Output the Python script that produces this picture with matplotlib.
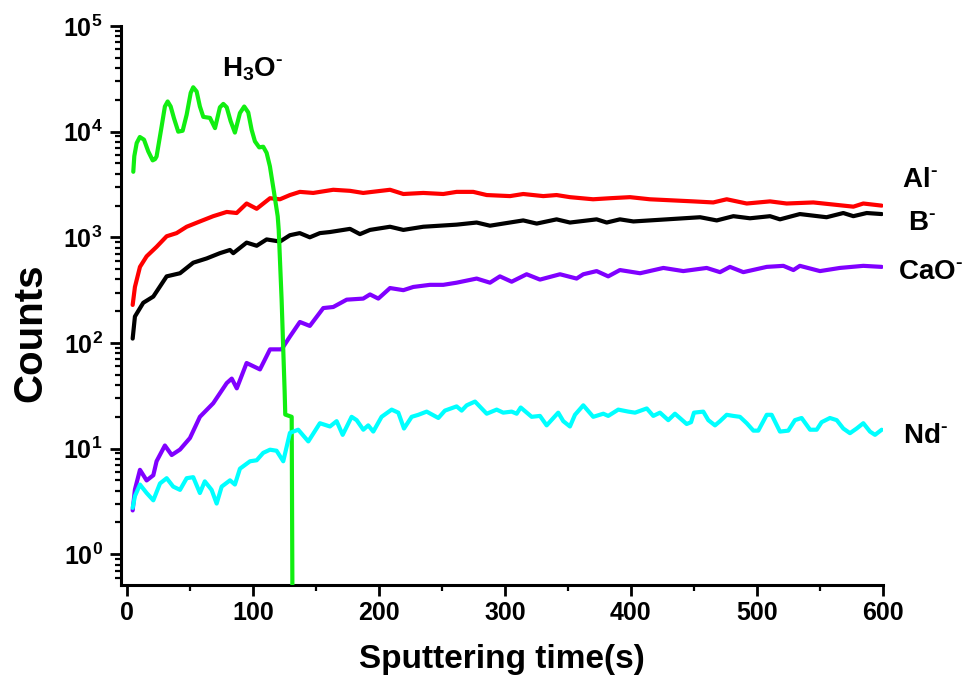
import matplotlib
matplotlib.use("Agg")
import matplotlib.pyplot as plt
from matplotlib.ticker import MultipleLocator, LogLocator, LogFormatterSciNotation, NullFormatter

plt.rcParams['font.family'] = ['Liberation Sans', 'DejaVu Sans']
plt.rcParams['font.weight'] = 'bold'
plt.rcParams['mathtext.fontset'] = 'custom'
plt.rcParams['mathtext.rm'] = 'Liberation Sans:bold'
plt.rcParams['mathtext.bf'] = 'Liberation Sans:bold'
plt.rcParams['mathtext.it'] = 'Liberation Sans:bold'
plt.rcParams['mathtext.sf'] = 'Liberation Sans:bold'
plt.rcParams['mathtext.default'] = 'rm'

# ---------------- data ----------------
h3o_t = [4.8, 5.6, 7.5, 10, 13.3, 16.7, 20.2, 22.1, 23.3, 27.3, 29.9, 32.1, 34.5, 37.1, 40.5,
         44, 47.2, 50.4, 52.4, 55.1, 57.7, 60.4, 65.7, 69.7, 73.6, 76.3, 79, 82.1, 85.5,
         89.5, 92.9, 96.1, 98.8, 101.4, 104.8, 108, 110.7, 113.3, 116.5, 119.5, 120.3,
         122.6, 123.9, 125.0, 125.5, 130.6, 131.4]
h3o_c = [4170, 5860, 7800, 8900, 8400, 6500, 5350, 5500, 5830, 11200, 17300, 19300, 17300, 13400, 10000,
         10200, 14500, 23300, 26300, 24000, 17300, 13800, 13500, 10800, 17000, 18300, 17000, 12600, 9800,
         15000, 17300, 15200, 10400, 8100, 7100, 7200, 6300, 4700, 2700, 1580, 1175,
         257, 87, 35, 21, 20, 0.1]

al_t = [4.3, 6.1, 10.1, 15.4, 23.3, 31.3, 39.2, 47.2, 57.7, 68.3, 79, 86.9, 94.8, 102.8, 113.4,
        121.3, 129.2, 137.1, 147.7, 163.6, 176.9, 187.4, 208.7, 219.3, 235.1, 251, 261.6, 274.8,
        285.5, 304, 314.5, 330.4, 341, 351.6, 370, 383.4, 399.3, 415, 449.6, 465.4, 476.1, 492,
        510.5, 523.7, 544.9, 560.8, 576.7, 584.6, 599.2]
al_c = [229, 339, 525, 661, 813, 1023, 1096, 1259, 1413, 1585, 1738, 1698, 2089, 1862, 2344,
        2291, 2512, 2692, 2630, 2818, 2754, 2630, 2818, 2570, 2630, 2570, 2692, 2692,
        2512, 2455, 2570, 2455, 2512, 2399, 2291, 2344, 2399, 2291, 2188, 2138, 2291, 2089,
        2188, 2089, 2138, 2042, 1950, 2089, 1995]

b_t = [4.3, 6.1, 12.7, 20.7, 31.3, 41.9, 52.4, 63.1, 73.6, 81.6, 84.2, 94.8, 102.8, 110.7, 121.3,
       129.2, 137, 145, 153, 161, 176.9, 184.8, 192.8, 208.7, 219.3, 235.1, 261.6, 277.5, 288.1,
       298.6, 314.5, 325.2, 341, 351.6, 372.8, 380.8, 391.3, 402, 428.4, 455, 468.2, 481.4,
       494.6, 510.5, 518.4, 534.2, 555.4, 568.7, 576.7, 587.3, 599.2]
b_c = [110, 178, 240, 275, 427, 457, 575, 631, 708, 759, 708, 891, 832, 955, 912,
       1047, 1096, 1000, 1096, 1122, 1202, 1072, 1175, 1259, 1175, 1259, 1318, 1380, 1288,
       1349, 1445, 1349, 1479, 1380, 1479, 1380, 1479, 1413, 1479, 1549, 1445, 1585,
       1514, 1585, 1479, 1660, 1549, 1698, 1585, 1698, 1660]

cao_t = [4.3, 6.1, 10.1, 15.4, 20.7, 23.3, 29.9, 35.3, 41.9, 49.8, 57.7, 68.3, 79, 83, 87, 94.8,
         105.4, 113.4, 122.6, 129.2, 137.1, 145, 155.7, 163.6, 174.3, 187.4, 192.8, 199.4, 208.7,
         219.3, 227.2, 240.4, 251, 261.6, 277.5, 288.1, 296, 305.3, 317.2, 327.8, 343.7, 356.9,
         362.2, 372.8, 382, 391.3, 407.3, 425.8, 441.6, 460.2, 470.8, 478.7, 489.3, 507.9, 521.1,
         529.1, 534.2, 550.2, 566, 584.6, 599.2]
cao_c = [2.6, 4.1, 6.3, 5.0, 5.6, 7.6, 10.7, 8.7, 9.8, 12.6, 20, 26.9, 41.7, 46, 37.2, 64.6,
         56.2, 87, 87, 115, 158, 145, 214, 219, 257, 263, 288, 263, 331,
         316, 339, 355, 355, 372, 407, 372, 427, 380, 447, 398, 447, 407,
         447, 479, 427, 490, 457, 513, 479, 513, 468, 525, 468, 525, 537,
         490, 537, 479, 513, 537, 525]

nd_t = [4.3, 6.1, 10.1, 15.4, 20.7, 26, 31.3, 36.5, 41.9, 47.2, 52.4, 57.7, 61.6, 67, 71, 75,
        81.6, 85.5, 89.5, 97.5, 102.8, 108, 113.4, 118.6, 123.9, 129.2, 135.8, 143.8, 153, 161,
        166.3, 171.1, 178.2, 182.2, 187.5, 191.4, 195.4, 202, 210, 215.3, 219.8, 225.9, 231.2,
        237.8, 247.1, 252.3, 261.6, 265.6, 269.6, 276.2, 285.5, 293.4, 298.6, 305.3, 309.3,
        312.5, 321.2, 327.8, 333.1, 342.3, 346.3, 351.6, 355.6, 362.2, 370.1, 378.1, 382, 390,
        398, 403.3, 412.6, 417.8, 423.1, 429.7, 435, 444.3, 447.8, 450.1, 457.5, 461.5, 466.8,
        470.8, 476.1, 481.3, 486.6, 492, 497.3, 501.2, 507.9, 511.8, 518.4, 525, 530.3, 535.6,
        542.3, 547.6, 551.5, 558.1, 563.5, 568.7, 574, 579.3, 584.6, 589.9, 593.9, 599.2]
nd_c = [2.75, 3.55, 4.57, 3.8, 3.24, 4.68, 5.25, 4.37, 4.07, 5.25, 5.37, 3.8, 4.9, 4.07, 3.02, 4.37,
        5.01, 4.57, 6.46, 7.59, 7.76, 9.12, 9.77, 9.55, 7.59, 14.1, 15.1, 11.7, 17.4, 16.2,
        18.2, 13.5, 20.0, 18.6, 15.1, 16.6, 14.5, 20.0, 23.4, 21.9, 15.5, 20.0, 20.9,
        22.4, 19.5, 22.9, 25.1, 22.9, 25.7, 27.9, 21.4, 23.4, 21.9, 22.4, 21.4,
        24.5, 20.0, 20.4, 16.6, 21.9, 18.2, 16.2, 20.9, 25.7, 20.0, 21.4, 20.4, 23.4,
        22.4, 21.9, 24.0, 20.4, 21.9, 18.6, 21.4, 17.1, 17.8, 21.9, 22.4, 18.6, 16.6,
        18.2, 20.9, 20.4, 20.0, 17.4, 14.8, 14.8, 20.9, 20.9, 14.5, 14.8, 18.6, 19.5,
        15.1, 15.1, 17.8, 19.5, 18.6, 15.5, 14.0, 15.5, 17.4, 14.5, 13.5, 15.1]

x_ticks = [0, 100, 200, 300, 400, 500, 600]

# ---------------- figure ----------------
W, H = 969, 686
fig = plt.figure(figsize=(W / 100, H / 100), dpi=100)
ax = fig.add_axes([120.7 / W, 1 - 585 / H, (882.7 - 120.7) / W, (585 - 26) / H])

lw = 3.0
kw = dict(lw=lw, solid_joinstyle='round', solid_capstyle='round')
ax.plot(al_t, al_c, color='#FF0000', zorder=3, **kw)
ax.plot(b_t, b_c, color='#000000', zorder=3, **kw)
ax.plot(cao_t, cao_c, color='#8000FF', zorder=3, **kw)
ax.plot(h3o_t, h3o_c, color='#11EE11', zorder=4, **kw)
ax.plot(nd_t, nd_c, color='#00FFFF', zorder=5, **kw)

ax.set_yscale('log')
ax.set_xlim(-5.2, 600)
ax.set_ylim(0.512, 1e5)

ax.set_xticks(x_ticks)
ax.set_xticklabels([str(v) for v in x_ticks])
ax.xaxis.set_minor_locator(MultipleLocator(50))
ax.yaxis.set_major_locator(LogLocator(base=10, numticks=20))
ax.yaxis.set_minor_locator(LogLocator(base=10, subs=range(2, 10), numticks=50))
ax.yaxis.set_major_formatter(LogFormatterSciNotation())
ax.yaxis.set_minor_formatter(NullFormatter())

for s in ['top', 'right']:
    ax.spines[s].set_visible(False)
for s in ['left', 'bottom']:
    ax.spines[s].set_linewidth(2.2)

ax.tick_params(which='major', direction='out', length=8, width=2.0, labelsize=18, pad=3.5)
ax.tick_params(which='minor', direction='out', length=4.5, width=1.6)
ax.tick_params(axis='y', which='major', pad=5)

ax.set_xlabel('Sputtering time(s)', fontsize=24, fontweight='bold', labelpad=14)
ax.set_ylabel('Counts', fontsize=29, fontweight='bold')
ax.yaxis.set_label_coords(-0.093, 0.451)

def ftext(px, py, s):
    fig.text(px / W, 1 - py / H, s, fontsize=20, fontweight='bold', ha='left', va='baseline')

ftext(221.7, 76.7, r'H$_{3}$O$^{\text{-}}$')
ftext(901.7, 187.3, r'Al$^{\text{-}}$')
ftext(908.3, 230, r'B$^{\text{-}}$')
ftext(898.3, 279, r'CaO$^{\text{-}}$')
ftext(903.3, 443.3, r'Nd$^{\text{-}}$')

fig.savefig('out.png', dpi=100)
